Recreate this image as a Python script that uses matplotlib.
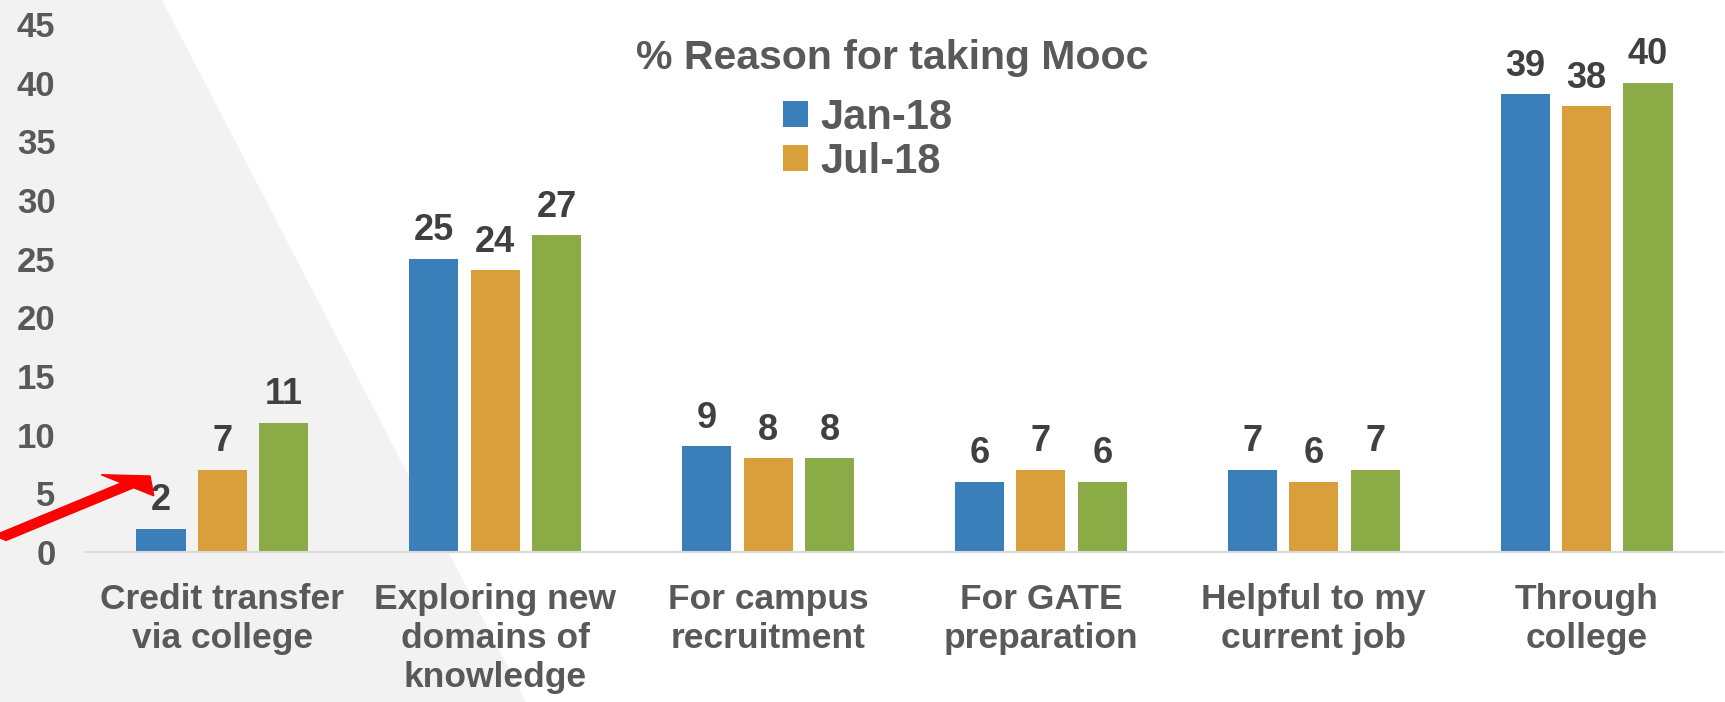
import numpy as np
import matplotlib
matplotlib.use("Agg")
import matplotlib.pyplot as plt
from matplotlib.patches import Polygon, FancyArrow

plt.rcParams['font.family'] = ['Liberation Sans', 'DejaVu Sans']
plt.rcParams['font.weight'] = 'bold'

categories = ["Credit transfer\nvia college", "Exploring new\ndomains of\nknowledge",
              "For campus\nrecruitment", "For GATE\npreparation",
              "Helpful to my\ncurrent job", "Through\ncollege"]
jan18 = [2, 25, 9, 6, 7, 39]
jul18 = [7, 24, 8, 7, 6, 38]
third = [11, 27, 8, 6, 7, 40]
legend_names = ["Jan-18", "Jul-18"]
yticks = [0, 5, 10, 15, 20, 25, 30, 35, 40, 45]

colors = ['#3a7fba', '#d89f3a', '#8aab45']
txt_gray = '#595959'
lbl_gray = '#404040'

W, H = 1725, 702
fig = plt.figure(figsize=(W / 100, H / 100), dpi=100)

# light gray diagonal background on the left
fig.patches.append(Polygon([(0, 1), (162 / W, 1), (526 / W, 0), (0, 0)],
                           closed=True, transform=fig.transFigure,
                           facecolor='#f2f2f2', edgecolor='none', zorder=0))

ax = fig.add_axes([86 / W, (H - 552) / H, (1723 - 86) / W, (552 - 24) / H])
ax.set_facecolor('none')
ax.set_zorder(1)

x = np.arange(len(categories))
width = 0.18
step = 0.225
series = [jan18, jul18, third]
bars = []
for i, vals in enumerate(series):
    b = ax.bar(x + (i - 1) * step, vals, width, color=colors[i], zorder=2)
    bars.append(b)
    for rect, v in zip(b, vals):
        ax.text(rect.get_x() + rect.get_width() / 2, v + 0.9, str(v),
                ha='center', va='bottom', fontsize=26, fontweight='bold',
                color=lbl_gray)

ax.set_xlim(-0.5, len(categories) - 0.5)
ax.set_ylim(0, 45)
ax.set_yticks(yticks)
ax.set_xticks(x)
ax.set_xticklabels(categories, fontsize=25.5, fontweight='bold', color=txt_gray,
                   linespacing=1.24)
ax.tick_params(axis='y', length=0, pad=22, labelsize=25, labelcolor=txt_gray)
ax.tick_params(axis='x', length=0, pad=22)
for s in ['top', 'right', 'left']:
    ax.spines[s].set_visible(False)
ax.spines['bottom'].set_color('#d9d9d9')
ax.spines['bottom'].set_linewidth(1.5)

fig.text(892 / W, 1 - 58 / H, "% Reason for taking Mooc", ha='center', va='center',
         fontsize=29.5, fontweight='bold', color=txt_gray)

leg = ax.legend([bars[0], bars[1]], legend_names, loc='upper left',
                bbox_to_anchor=(766 / W, 1 - 81 / H), bbox_transform=fig.transFigure,
                frameon=False, prop={'size': 30, 'weight': 'bold'},
                handlelength=0.6, handleheight=0.6, handletextpad=0.3,
                labelspacing=0.1, borderaxespad=0)
for t in leg.get_texts():
    t.set_color(txt_gray)

# red arrow pointing to the first bar label
fig.patches.append(FancyArrow(0, 1 - 538 / H, 150 / W, (538 - 476) / H,
                              width=7 / H, head_width=30 / H, head_length=32 / W,
                              length_includes_head=True, transform=fig.transFigure,
                              color='#ff0000', zorder=5))

fig.savefig("out.png", dpi=100)
